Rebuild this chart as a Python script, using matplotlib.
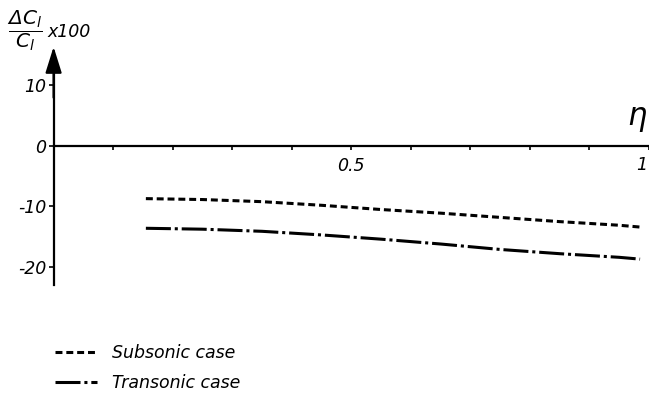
import matplotlib
matplotlib.use('Agg')
import matplotlib.pyplot as plt

plt.rcParams['font.family'] = ['DejaVu Sans']
plt.rcParams['font.style'] = 'oblique'
plt.rcParams['mathtext.fontset'] = 'dejavusans'
plt.rcParams['lines.scale_dashes'] = False

# spanwise station eta and relative change of section lift (%)
eta = [0.155, 0.25, 0.35, 0.45, 0.55, 0.65, 0.75, 0.85, 0.95, 0.985]
subsonic = [-8.7, -8.85, -9.2, -9.8, -10.5, -11.1, -11.8, -12.5, -13.1, -13.4]
transonic = [-13.6, -13.75, -14.1, -14.7, -15.4, -16.2, -17.1, -17.8, -18.4, -18.7]

xticks = [0.1, 0.2, 0.3, 0.4, 0.5, 0.6, 0.7, 0.8, 0.9, 1.0]
xticklabels = ['', '', '', '', '0.5', '', '', '', '', '']
yticks = [-20, -10, 0, 10]
yticklabels = ['-20', '-10', '0', '10']

W, H = 649, 396
x0, y0 = 54, 146          # origin in pixels
sx, sy = 600.0, 6.05      # pixels per unit

fig = plt.figure(figsize=(W / 100, H / 100), dpi=100)
ax = fig.add_axes([0, 0, 1, 1])
ax.set_xlim(-x0 / sx, (W - x0) / sx)
ax.set_ylim(-(H - y0) / sy, y0 / sy)
ax.patch.set_visible(False)

ax.plot(eta, subsonic, color='black', lw=2.2, linestyle=(0, (5, 2.8)),
        solid_capstyle='butt', label='Subsonic case')
ax.plot(eta, transonic, color='black', lw=2.2,
        linestyle=(0, (18, 2.8, 2.2, 2.8)), label='Transonic case')

for side in ['top', 'right']:
    ax.spines[side].set_visible(False)
ax.spines['left'].set_position(('data', 0))
ax.spines['bottom'].set_position(('data', 0))
ax.spines['left'].set_bounds(-23, 12)
ax.spines['bottom'].set_bounds(0, 1.2)
ax.spines['left'].set_linewidth(1.6)
ax.spines['bottom'].set_linewidth(1.6)

ax.annotate('', xy=(0, 16.4), xytext=(0, 8),
            arrowprops=dict(arrowstyle='-|>,head_length=1.6,head_width=0.5',
                            color='black', lw=1.6, shrinkA=0, shrinkB=0))

ax.set_xticks(xticks)
ax.set_xticklabels(xticklabels)
ax.set_yticks(yticks)
ax.set_yticklabels(yticklabels)
ax.tick_params(axis='x', direction='out', length=3, width=1.2, pad=5, labelsize=12.5)
ax.tick_params(axis='y', direction='out', length=3.6, width=1.2, pad=1.5, labelsize=12.5)

# the "1" of the eta axis sits at the right edge of the picture
fig.text(647 / W, 1 - 165 / H, '1', fontsize=12.5, ha='right', va='center')

ax.text(0.963, 4.3, r'$\eta$', fontsize=22, ha='left', va='center')

fig.text(7 / W, 1 - 31 / H, r'$\dfrac{\Delta C_l}{C_l}$', fontsize=14.5,
         ha='left', va='center')
fig.text(47 / W, 1 - 32 / H, 'x100', fontsize=12.5, ha='left', va='center')

ax.legend(loc='upper left', bbox_to_anchor=(55 / W, 1 - 344 / H),
          bbox_transform=fig.transFigure, frameon=False, fontsize=12.5,
          handlelength=2.4, handletextpad=0.9, labelspacing=0.72,
          borderpad=0, borderaxespad=0)

fig.savefig('out.png', dpi=100)
